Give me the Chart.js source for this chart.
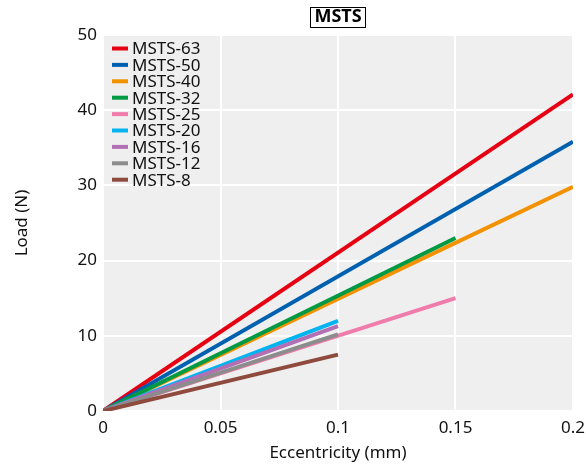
<!DOCTYPE html>
<html>
<head>
<meta charset="utf-8">
<script src="https://cdn.jsdelivr.net/npm/chart.js@4.4.1/dist/chart.umd.min.js"></script>
<style>
  html, body { margin: 0; padding: 0; background: #fff; }
  #wrap { width: 586px; height: 466px; }
</style>
</head>
<body>
<div id="wrap"><canvas id="chart" width="586" height="466"></canvas></div>
<script>
// data
const seriesNames = ["MSTS-63", "MSTS-50", "MSTS-40", "MSTS-32", "MSTS-25", "MSTS-20", "MSTS-16", "MSTS-12", "MSTS-8"];
const seriesColors = ["#e60012", "#0060b0", "#f39200", "#009944", "#f07cab", "#00b4f0", "#b36fb4", "#8c8c8c", "#8f4a3e"];
const eccStart = [0, 0, 0, 0, 0, 0, 0, 0, 0];
const eccEnd = [0.2, 0.2, 0.2, 0.15, 0.15, 0.1, 0.1, 0.1, 0.1];
const loadStart = [0, 0, 0, 0, 0, 0, 0, 0, 0];
const loadEnd = [42.1, 35.8, 29.8, 23.0, 15.0, 12.0, 11.3, 10.2, 7.5];
const xTicks = [0, 0.05, 0.1, 0.15, 0.2];
const yTicks = [0, 10, 20, 30, 40, 50];

const FONT = "'Noto Sans', 'Open Sans', sans-serif";

const datasets = seriesNames.map((name, i) => ({
  label: name,
  data: [{ x: eccStart[i], y: loadStart[i] }, { x: eccEnd[i], y: loadEnd[i] }],
  borderColor: seriesColors[i],
  backgroundColor: seriesColors[i],
  borderWidth: 4,
  pointRadius: 0,
  showLine: true,
  order: -i
}));

// gray plot background, boxed title, legend inside the plot
const decor = {
  id: "decor",
  beforeDraw(chart) {
    const { ctx, chartArea: a } = chart;
    ctx.save();
    ctx.fillStyle = "#efefef";
    ctx.fillRect(a.left, a.top, a.right - a.left, a.bottom - a.top + 1);
    ctx.restore();
  },
  afterDraw(chart) {
    const { ctx, chartArea: a } = chart;
    ctx.save();
    // title
    ctx.font = "bold 18px " + FONT;
    ctx.textAlign = "center";
    ctx.textBaseline = "middle";
    const cx = (a.left + a.right) / 2;
    const w = ctx.measureText("MSTS").width;
    ctx.fillStyle = "#000";
    ctx.fillText("MSTS", cx, 17);
    ctx.strokeStyle = "#000";
    ctx.lineWidth = 1;
    ctx.strokeRect(Math.round(cx - w / 2 - 4) + 0.5, 7.5, Math.round(w + 8), 20);

    // legend
    ctx.font = "17px " + FONT;
    ctx.textAlign = "left";
    seriesNames.forEach((name, i) => {
      const y = 48.5 + i * 16.4;
      ctx.strokeStyle = seriesColors[i];
      ctx.lineWidth = 4;
      ctx.beginPath();
      ctx.moveTo(112, y);
      ctx.lineTo(128, y);
      ctx.stroke();
      ctx.fillStyle = "#111";
      ctx.fillText(name, 132, y + 1);
    });
    ctx.restore();
  }
};

new Chart(document.getElementById("chart"), {
  type: "scatter",
  data: { datasets },
  options: {
    responsive: false,
    animation: false,
    layout: { padding: { top: 35, right: 13, left: 0, bottom: 0 } },
    plugins: { legend: { display: false }, title: { display: false }, tooltip: { enabled: false } },
    scales: {
      x: {
        type: "linear",
        min: 0,
        max: 0.2,
        afterBuildTicks(axis) { axis.ticks = xTicks.map(v => ({ value: v })); },
        afterFit(axis) {
          axis.height = 55;
          axis.paddingLeft = 0;
          axis.paddingRight = 0;
        },
        grid: { color: "#ffffff", lineWidth: 2, drawTicks: false },
        border: { display: false },
        ticks: {
          color: "#111",
          font: { family: FONT, size: 17 },
          padding: 7,
          maxRotation: 0,
          callback: v => String(v)
        },
        title: {
          display: true,
          text: "Eccentricity (mm)",
          color: "#111",
          font: { family: FONT, size: 17 },
          padding: { top: 0, bottom: 3 }
        }
      },
      y: {
        min: 0,
        max: 50,
        afterBuildTicks(axis) { axis.ticks = yTicks.map(v => ({ value: v })); },
        afterFit(axis) {
          axis.width = 103;
          axis.paddingTop = 0;
          axis.paddingBottom = 0;
        },
        grid: { color: "#ffffff", lineWidth: 2, drawTicks: false },
        border: { display: false },
        ticks: {
          color: "#111",
          font: { family: FONT, size: 17 },
          padding: 6
        },
        title: {
          display: true,
          text: "Load (N)",
          color: "#111",
          font: { family: FONT, size: 17 },
          padding: { top: 12, bottom: 20 }
        }
      }
    }
  },
  plugins: [decor]
});
</script>
</body>
</html>
